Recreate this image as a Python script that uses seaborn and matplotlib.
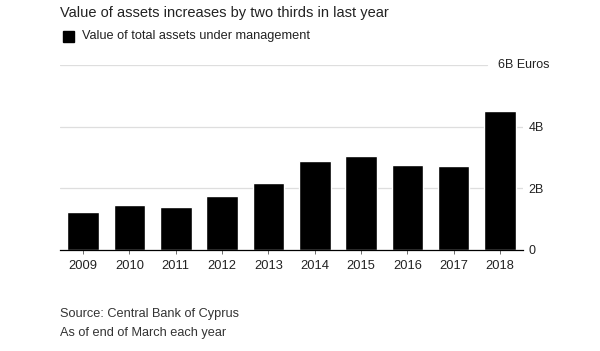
import matplotlib.pyplot as plt
import pandas as pd
import seaborn as sns

# data (billions of euros)
years = ["2009", "2010", "2011", "2012", "2013", "2014", "2015", "2016", "2017", "2018"]
assets = [1.24, 1.47, 1.40, 1.74, 2.18, 2.90, 3.04, 2.74, 2.71, 4.50]
ytick_values = [0, 2, 4]
ytick_labels = ["0", "2B", "4B"]

df = pd.DataFrame({"year": years, "assets": assets})

sns.set_theme(style="white")
plt.rcParams["font.family"] = ["Liberation Sans", "DejaVu Sans"]

fig = plt.figure(figsize=(6, 3.51), dpi=100)
ax = fig.add_axes([0.1, 0.288, 0.772, 0.527])

sns.barplot(data=df, x="year", y="assets", color="black", width=0.68,
            saturation=1, ax=ax)

ax.set_xlim(-0.5, 9.5)
ax.set_ylim(0, 6)

# grid lines
for v in [2, 4]:
    ax.axhline(v, color="#dedede", lw=0.9, zorder=0)
ax.axhline(6, xmax=0.921, color="#dedede", lw=0.9, zorder=0)

ax.set_xlabel("")
ax.set_ylabel("")
for side in ["top", "right", "left"]:
    ax.spines[side].set_visible(False)
ax.spines["bottom"].set_color("black")
ax.spines["bottom"].set_linewidth(0.9)

ax.yaxis.tick_right()
ax.set_yticks(ytick_values)
ax.set_yticklabels(ytick_labels)
ax.tick_params(axis="y", length=0, pad=4, labelsize=9, labelcolor="#222222")
ax.tick_params(axis="x", length=3, width=0.6, color="#555555", direction="out",
               bottom=True, pad=4, labelsize=9.3, labelcolor="#222222")
ax.text(1.0 - 0.055, 6, "6B Euros", transform=ax.get_yaxis_transform(),
        ha="left", va="center", fontsize=9, color="#222222")

# title and legend
fig.text(0.1, 0.962, "Value of assets increases by two thirds in last year",
         ha="left", va="center", fontsize=10.5, color="#222222")
fig.patches.append(plt.Rectangle((0.105, 0.88), 0.018, 0.033, color="black",
                                 transform=fig.transFigure, figure=fig))
fig.text(0.137, 0.897, "Value of total assets under management",
         ha="left", va="center", fontsize=9.2, color="#222222")

# footer
fig.text(0.1, 0.105, "Source: Central Bank of Cyprus",
         ha="left", va="center", fontsize=9.2, color="#333333")
fig.text(0.1, 0.05, "As of end of March each year",
         ha="left", va="center", fontsize=9.2, color="#333333")

fig.savefig("out.png", dpi=100, facecolor="white")
